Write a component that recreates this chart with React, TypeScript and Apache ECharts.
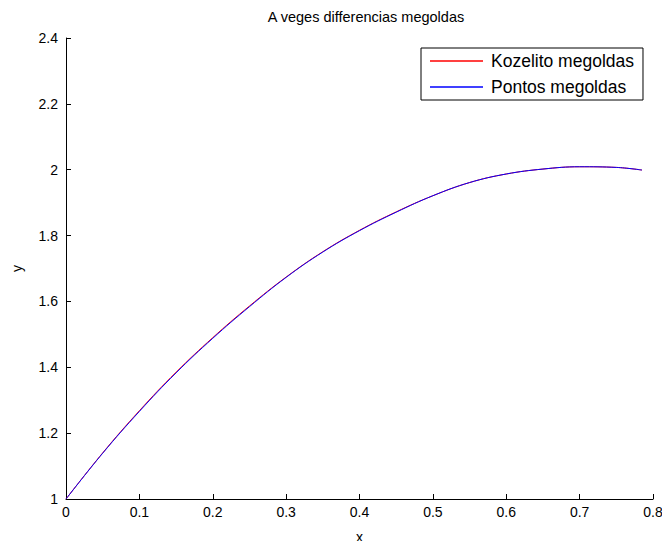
import React, { useEffect, useRef } from "react";
import * as echarts from "echarts";

const xValues = [0, 0.05, 0.1, 0.15, 0.2, 0.25, 0.3, 0.35, 0.4, 0.45, 0.5, 0.55, 0.6, 0.65, 0.7, 0.75, 0.785];
const exactY = [1.0, 1.139, 1.266, 1.383, 1.488, 1.584, 1.673, 1.75, 1.815, 1.871, 1.921, 1.961, 1.987, 2.002, 2.009, 2.007, 1.999];
const approxX = [0, 0.05, 0.1, 0.15, 0.2, 0.25, 0.3, 0.35, 0.4, 0.45, 0.5, 0.55, 0.6, 0.65, 0.7, 0.75, 0.785];
const approxY = [1.0, 1.14, 1.268, 1.385, 1.49, 1.586, 1.674, 1.751, 1.816, 1.872, 1.921, 1.961, 1.987, 2.002, 2.009, 2.007, 1.999];
const xTicks = ["0", "0.1", "0.2", "0.3", "0.4", "0.5", "0.6", "0.7", "0.8"];
const yTicks = ["1", "1.2", "1.4", "1.6", "1.8", "2", "2.2", "2.4"];
const seriesNames = ["Kozelito megoldas", "Pontos megoldas"];
const titleText = "A veges differencias megoldas";

const FONT = "'Liberation Sans', Arial, Helvetica, sans-serif";

export default function App() {
  const ref = useRef<HTMLDivElement>(null);
  useEffect(() => {
    if (!ref.current) return;
    const chart = echarts.init(ref.current, null, { renderer: "svg" });
    chart.setOption({
      animation: false,
      backgroundColor: "#fff",
      title: {
        text: titleText,
        left: 361,
        top: 4,
        textAlign: "center",
        textStyle: { fontFamily: FONT, fontSize: 14.5, fontWeight: "normal", color: "#000" },
      },
      legend: {
        data: seriesNames.map((n) => ({ name: n, icon: "rect" })),
        orient: "vertical",
        left: 421,
        top: 48,
        itemWidth: 53,
        itemHeight: 1.4,
        itemGap: 8,
        padding: [4, 9, 4, 9],
        borderColor: "#000",
        borderWidth: 1,
        backgroundColor: "#fff",
        textStyle: { fontFamily: FONT, fontSize: 17.5, color: "#000", padding: [0, 0, 0, 3] },
      },
      grid: { left: 66, right: 17, top: 38, bottom: 47 },
      xAxis: {
        type: "value",
        min: 0,
        max: 0.8,
        interval: 0.1,
        name: "x",
        nameLocation: "middle",
        nameGap: 31,
        nameTextStyle: { fontFamily: FONT, fontSize: 14, color: "#000" },
        axisLine: { show: true, lineStyle: { color: "#000", width: 1 } },
        axisTick: { show: true, inside: true, length: 5, lineStyle: { color: "#000" } },
        splitLine: { show: false },
        axisLabel: {
          fontFamily: FONT,
          fontSize: 14,
          color: "#000",
          margin: 6,
          formatter: (v: number) => xTicks[Math.round(v * 10)],
        },
      },
      yAxis: {
        type: "value",
        min: 1,
        max: 2.4,
        interval: 0.2,
        name: "y",
        nameLocation: "middle",
        nameGap: 42,
        nameTextStyle: { fontFamily: FONT, fontSize: 14, color: "#000" },
        axisLine: { show: true, lineStyle: { color: "#000", width: 1 } },
        axisTick: { show: true, inside: true, length: 5, lineStyle: { color: "#000" } },
        splitLine: { show: false },
        axisLabel: {
          fontFamily: FONT,
          fontSize: 14,
          color: "#000",
          margin: 8,
          formatter: (v: number) => yTicks[Math.round((v - 1) * 5)],
        },
      },
      series: [
        {
          name: seriesNames[0],
          type: "line",
          data: approxX.map((x, i) => [x, approxY[i]]),
          smooth: 0.4,
          showSymbol: false,
          symbol: "none",
          lineStyle: { color: "#ff0000", width: 1 },
          itemStyle: { color: "#ff0000" },
        },
        {
          name: seriesNames[1],
          type: "line",
          data: xValues.map((x, i) => [x, exactY[i]]),
          smooth: 0.4,
          showSymbol: false,
          symbol: "none",
          lineStyle: { color: "#0000ff", width: 1 },
          itemStyle: { color: "#0000ff" },
        },
      ],
    });
    return () => chart.dispose();
  }, []);
  return <div ref={ref} style={{ width: 670, height: 549, margin: -8 }} />;
}
